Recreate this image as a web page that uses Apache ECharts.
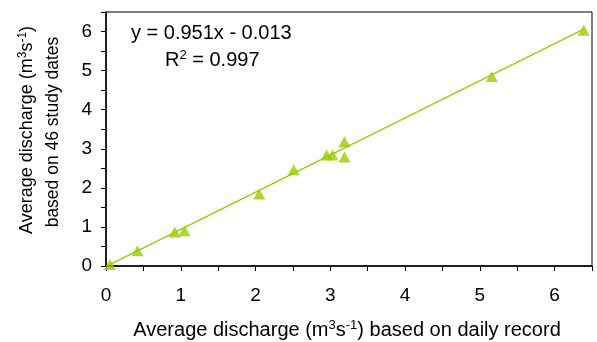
<!DOCTYPE html>
<html><head><meta charset="utf-8">
<script src="https://cdn.jsdelivr.net/npm/echarts@6/dist/echarts.min.js"></script>
<style>html,body{margin:0;padding:0;background:#fff}#c{width:597px;height:342px}</style>
</head><body><div id="c"></div>
<script>
var dailyX = [0.05, 0.42, 0.92, 1.05, 2.05, 2.51, 2.95, 3.03, 3.19, 3.19, 5.16, 6.39];
var studyY = [0.04, 0.39, 0.87, 0.90, 1.84, 2.46, 2.84, 2.84, 3.18, 2.79, 4.85, 6.03];
var slope = 0.951, intercept = -0.013;
var xTicks = [0, 1, 2, 3, 4, 5, 6];
var yTicks = [0, 1, 2, 3, 4, 5, 6];

var pts = dailyX.map(function (x, i) { return [x, studyY[i]]; });
var xmin = Math.min.apply(null, dailyX), xmax = Math.max.apply(null, dailyX);
var trend = [[xmin, slope * xmin + intercept], [xmax, slope * xmax + intercept]];
var green = '#99cc00';
var font = 'Liberation Sans, Arial, sans-serif';
function fmt(ticks) { return function (v) { return ticks.indexOf(Math.round(v * 100) / 100) >= 0 ? String(v) : ''; }; }

var chart = echarts.init(document.getElementById('c'));
chart.setOption({
  animation: false,
  grid: { left: 106, right: 5, top: 12, bottom: 76, show: true, borderColor: '#000', borderWidth: 1 },
  xAxis: {
    type: 'value', min: 0, max: 6.5, interval: 0.5,
    axisLine: { lineStyle: { color: '#000', width: 1.5 } },
    axisTick: { show: true, length: 5, lineStyle: { color: '#000', width: 1 } },
    splitLine: { show: false },
    axisLabel: { color: '#000', fontSize: 19, fontFamily: font, margin: 20, formatter: fmt(xTicks) }
  },
  yAxis: {
    type: 'value', min: 0, max: 6.5, interval: 0.5,
    axisLine: { show: true, lineStyle: { color: '#000', width: 1.5 } },
    axisTick: { show: true, length: 5, lineStyle: { color: '#000', width: 1 } },
    splitLine: { show: false },
    axisLabel: { color: '#000', fontSize: 19, fontFamily: font, margin: 14, formatter: fmt(yTicks) }
  },
  series: [
    { type: 'line', data: trend, symbol: 'none', lineStyle: { color: green, width: 1.4 }, z: 2 },
    { type: 'scatter', data: pts, symbol: 'triangle', symbolSize: [12, 11], itemStyle: { color: green }, z: 3 }
  ],
  graphic: [
    { type: 'text', left: 131, top: 23, style: { text: 'y = 0.951x - 0.013', font: '20px ' + font, fill: '#000' } },
    { type: 'text', left: 165, top: 49, style: { text: 'R{s|2} = 0.997', font: '20px ' + font, fill: '#000',
      rich: { s: { fontSize: 13, fontFamily: font, padding: [0, 0, 9, 0] } } } },
    { type: 'text', x: 347, y: 330, style: { text: 'Average discharge (m{s|3}s{s|-1}) based on daily record', font: '20px ' + font, fill: '#000', align: 'center', verticalAlign: 'middle',
      rich: { s: { fontSize: 13, fontFamily: font, padding: [0, 0, 9, 0] } } } },
    { type: 'text', x: 27, y: 130, rotation: Math.PI / 2, style: { text: 'Average discharge (m{s|3}s{s|-1})', font: '18px ' + font, fill: '#000', align: 'center', verticalAlign: 'middle',
      rich: { s: { fontSize: 12, fontFamily: font, padding: [0, 0, 8, 0] } } } },
    { type: 'text', x: 53, y: 132, rotation: Math.PI / 2, style: { text: 'based on 46 study dates', font: '17.5px ' + font, fill: '#000', align: 'center', verticalAlign: 'middle' } }
  ]
});
</script></body></html>
